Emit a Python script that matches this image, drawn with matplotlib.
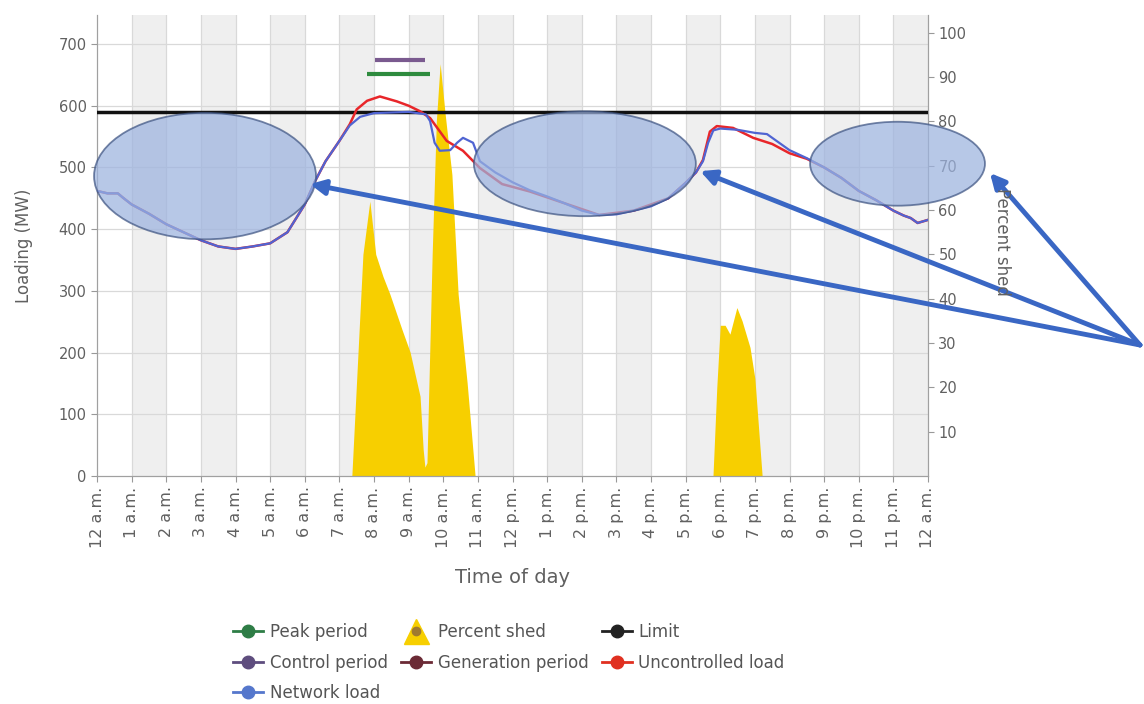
import numpy as np
import matplotlib.pyplot as plt
from matplotlib.patches import Ellipse
from matplotlib.lines import Line2D

# --- data ---
net_hours = [0.0, 0.3, 0.6, 0.75, 1.0, 1.5, 2.0, 2.5, 3.0, 3.5, 4.0, 4.5, 5.0, 5.5,
             6.0, 6.3, 6.6, 7.0, 7.3, 7.6, 8.0, 8.5, 9.0, 9.5, 9.62, 9.75, 9.9, 10.2,
             10.4, 10.57, 10.86, 11.06, 11.5, 12.0, 12.5, 13.0, 13.5, 14.0, 14.5,
             15.0, 15.5, 16.0, 16.5, 17.0, 17.3, 17.5, 17.65, 17.8, 18.0, 18.5,
             19.0, 19.35, 19.7, 20.0, 20.5, 21.0, 21.5, 22.0, 22.5, 23.0, 23.3,
             23.5, 23.7, 24.0]
net_load = [462, 458, 458, 451, 440, 425, 408, 395, 382, 372, 368, 372, 377, 395,
            440, 478, 510, 543, 568, 582, 588, 589, 590, 586, 575, 540, 527, 528,
            540, 548, 540, 510, 492, 476, 463, 453, 442, 430, 423,
            424, 430, 437, 450, 475, 492, 510, 540, 560, 563, 561,
            556, 554, 540, 528, 515, 500, 483, 462, 447, 430, 422,
            418, 410, 415]

unc_hours = [0.0, 0.3, 0.6, 0.75, 1.0, 1.5, 2.0, 2.5, 3.0, 3.5, 4.0, 4.5, 5.0, 5.5,
             6.0, 6.3, 6.6, 7.0, 7.3, 7.5, 7.8, 8.17, 8.66,
             9.0, 9.33, 9.62, 10.1, 10.57, 11.06, 11.7, 12.5, 13.5, 14.5, 15.5,
             16.5, 17.0, 17.3, 17.5, 17.7, 17.9, 18.37, 18.95, 19.5, 20.0, 20.5,
             21.0, 21.5, 22.0, 22.5, 23.0, 23.3, 23.5, 23.7, 24.0]
unc_load = [462, 458, 458, 451, 440, 425, 408, 395, 382, 372, 368, 372, 377, 395,
            440, 478, 510, 543, 570, 594, 608, 615, 607,
            600, 591, 580, 543, 527, 499, 473, 461, 442, 423, 430,
            450, 475, 492, 512, 558, 567, 564, 548, 538, 523, 514,
            500, 483, 462, 447, 430, 422, 418, 410, 415]

shed_hours = [7.36, 7.68, 7.88, 8.05, 8.26, 8.46, 8.81, 9.04, 9.33, 9.42, 9.47,
              9.53, 9.68, 9.8, 9.91, 10.05, 10.25, 10.43, 10.69, 10.92,
              17.79, 17.9, 18.0, 18.14, 18.28, 18.48, 18.63, 18.86, 19.0, 19.21]
shed_pct = [0, 50, 62, 50, 45, 41, 33, 28, 18, 6, 2,
            3, 50, 80, 93, 82, 68, 41, 21, 0,
            0, 20, 34, 34, 32, 38, 35, 29, 22, 0]

limit_mw = 590
peak_period = (7.8, 9.62, 651)
control_period = (8.03, 9.47, 674)

tick_labels = ['12 a.m.'] + [f'{h} a.m.' for h in range(1, 12)] + ['12 p.m.'] + \
              [f'{h} p.m.' for h in range(1, 12)] + ['12 a.m.']

# annotation ellipses: (centre hour, centre MW, width h, height MW)
ellipses = [(3.12, 486, 6.41, 205), (14.09, 506, 6.41, 170), (23.12, 506, 5.05, 136)]
arrow_targets = [(6.15, 473), (17.42, 494), (25.79, 491)]

gray = '#606060'
fig = plt.figure(figsize=(11.44, 7.04), dpi=100)
ax = fig.add_axes([97 / 1144, 228 / 704, 831 / 1144, 461 / 704])
ax2 = ax.twinx()

ax.set_xlim(0, 24)
ax.set_ylim(0, 747)
ax2.set_ylim(0, 104)

# background: alternating hour shading and grid, on the lower axes
for h in range(1, 24, 2):
    ax2.axvspan(h, h + 1, color='#efefef', zorder=0, lw=0)
for h in range(1, 24):
    ax2.axvline(h, color='#d9d9d9', lw=0.9, zorder=0.5)
for mw in range(100, 701, 100):
    ax2.add_line(Line2D([0, 24], [mw, mw], transform=ax.transData,
                        color='#d9d9d9', lw=0.9, zorder=0.5))

ax.set_xticks(range(25))
ax.set_xticklabels(tick_labels, rotation=90, fontsize=11.5, color=gray)
ax.set_yticks(range(0, 701, 100))
ax.tick_params(axis='y', labelsize=10.5, labelcolor=gray, color='#999999', length=4)
ax.tick_params(axis='x', color='#999999', length=4)

ax2.set_yticks(range(10, 101, 10))
ax2.tick_params(axis='y', labelsize=10.5, labelcolor=gray, color='#999999', length=4)
for a in (ax, ax2):
    for s in a.spines.values():
        s.set_color('#a0a0a0')
    a.spines['top'].set_visible(False)

# percent shed on the right axis
ax2.fill_between(shed_hours[:20], shed_pct[:20], color='#f7cf00', lw=0, zorder=1)
ax2.fill_between(shed_hours[20:], shed_pct[20:], color='#f7cf00', lw=0, zorder=1)

ax.set_zorder(ax2.get_zorder() + 1)
ax.patch.set_visible(False)

ax.axhline(limit_mw, color='#111111', lw=2.5, zorder=3)
ax.plot(unc_hours, unc_load, color='#e8262a', lw=1.8, zorder=3)
ax.plot(net_hours, net_load, color='#5064d2', lw=1.6, zorder=4)
ax.hlines(peak_period[2], peak_period[0], peak_period[1], color='#2e8b3e', lw=3, zorder=4)
ax.hlines(control_period[2], control_period[0], control_period[1], color='#7a5a8f', lw=3, zorder=4)

for cx, cy, w, hgt in ellipses:
    e = Ellipse((cx, cy), w, hgt, facecolor='#9cb3df', edgecolor='#3e5482',
                lw=1.3, alpha=0.72, zorder=5, clip_on=False)
    ax.add_patch(e)

for tx, ty in arrow_targets:
    ax.annotate('', xy=(tx, ty), xycoords='data',
                xytext=(1140 / 1144, (704 - 345) / 704), textcoords='figure fraction',
                arrowprops=dict(arrowstyle='-|>', color='#3a67c4', lw=3.5,
                                mutation_scale=22, shrinkA=0, shrinkB=0),
                annotation_clip=False, zorder=6)

ax.set_ylabel('Loading (MW)', fontsize=12, color=gray, labelpad=18)
ax.set_xlabel('Time of day', fontsize=14, color=gray, labelpad=14)
fig.text(1002 / 1144, (704 - 242) / 704, 'Percent shed', rotation=270,
         fontsize=12, color=gray, ha='center', va='center')

# legend laid out row by row
def lh(c):
    return Line2D([], [], color=c, lw=2, marker='o', markersize=9)

shed_handle = (Line2D([], [], color='#f7cf00', marker='^', markersize=18, lw=0),
               Line2D([], [], color='#a07a30', marker='o', markersize=6, lw=0))
handles = [lh('#2e7d46'), lh('#5e4d7e'), lh('#5577cc'),
           shed_handle, lh('#6b2a35'),
           lh('#222222'), lh('#e03020')]
labels = ['Peak period', 'Control period', 'Network load',
          'Percent shed', 'Generation period',
          'Limit', 'Uncontrolled load']
leg = fig.legend(handles, labels, ncol=3, loc='upper left',
                 bbox_to_anchor=(218 / 1144, (704 - 608) / 704), frameon=False,
                 fontsize=12, handlelength=1.8, columnspacing=0.8,
                 handletextpad=0.4, labelspacing=0.75)
for t in leg.get_texts():
    t.set_color('#555555')

fig.savefig('out.png', dpi=100)
